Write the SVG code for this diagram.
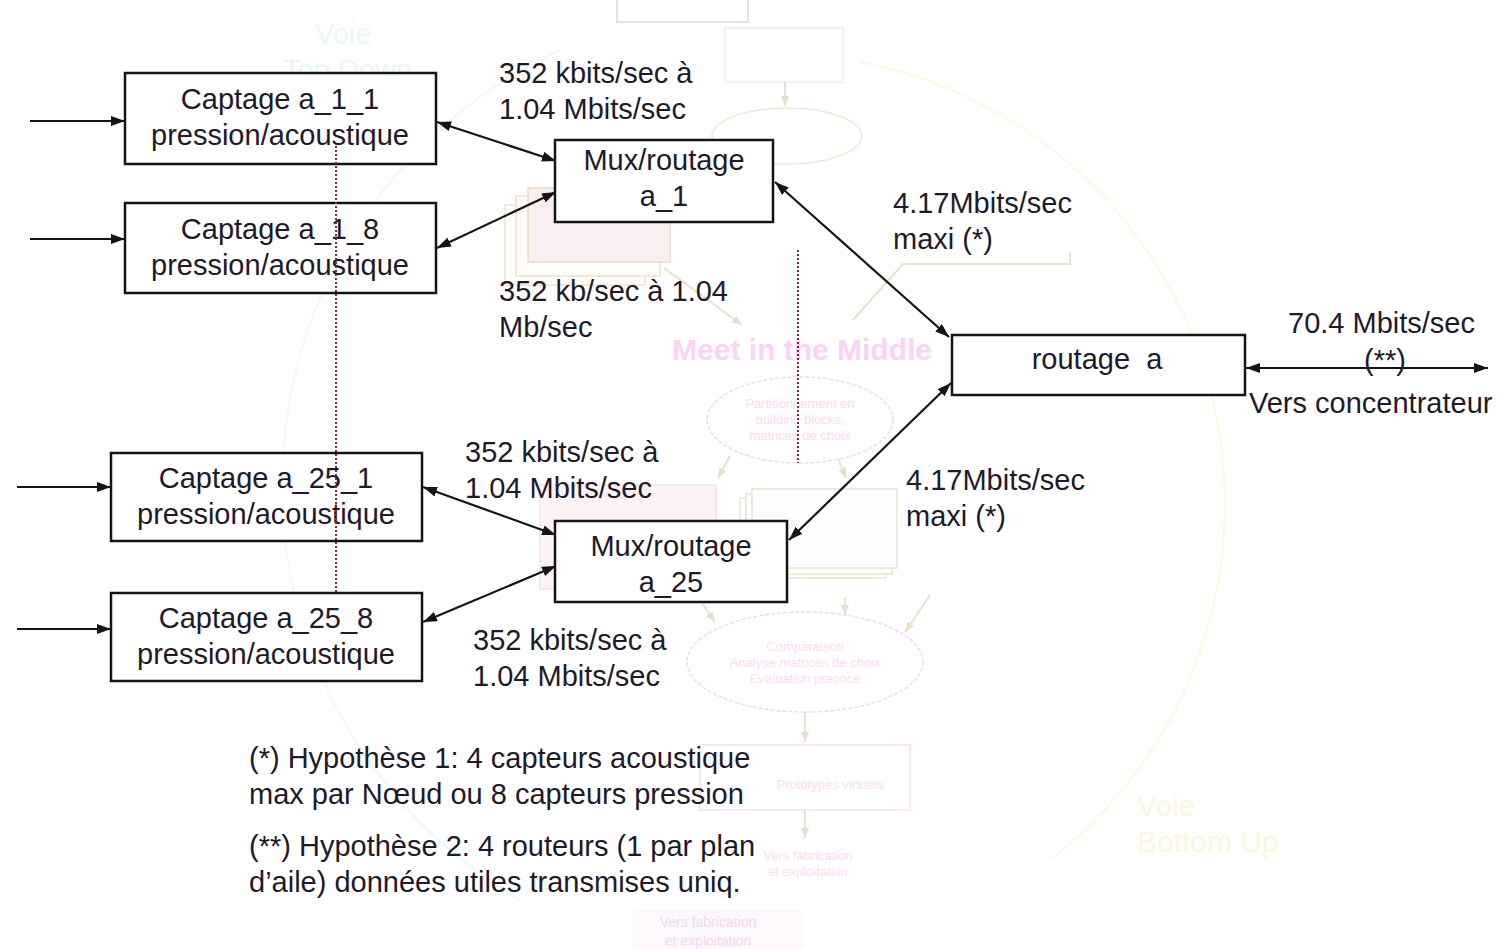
<svg xmlns="http://www.w3.org/2000/svg" width="1504" height="949" viewBox="0 0 1504 949">
  <style>
    .lbl { font-family: "Liberation Sans", Arial, sans-serif; font-size: 29px; fill: #1e1a2a; }
    .mid { text-anchor: middle; }
    .box { fill: #ffffff; stroke: #141414; stroke-width: 2.5; }
    .link { stroke: #141414; stroke-width: 2.2; fill: none; }
    .dots { stroke: #7a2c3c; stroke-width: 2; stroke-dasharray: 2 2; fill: none; }
    .bgline { fill: none; stroke-width: 2; }
    .bgtan { stroke: #e8e1cf; stroke-width: 2; fill: none; }
    .bgpink { stroke: #f9d2f4; stroke-width: 1.5; fill: none; }
    .bgtxt { font-family: "Liberation Sans", Arial, sans-serif; }
  </style>
  <defs>
    <marker id="ah" viewBox="0 0 14 10" refX="14" refY="5" markerWidth="14" markerHeight="10" orient="auto-start-reverse" markerUnits="userSpaceOnUse">
      <path d="M0,0 L14,5 L0,10 z" fill="#141414"/>
    </marker>
    <marker id="ahTan" viewBox="0 0 10 8" refX="10" refY="4" markerWidth="10" markerHeight="8" orient="auto" markerUnits="userSpaceOnUse">
      <path d="M0,0 L10,4 L0,8 z" fill="#e6dfcc"/>
    </marker>
  </defs>

  <!-- faded background: design-cycle sketch -->
  <g id="background">
    <path class="bgline" stroke="#eef9f9" d="M560 50 A480 480 0 0 0 520 900"/>
    <path class="bgline" stroke="#fafae4" d="M860 62 A450 450 0 0 1 1050 860"/>
    <text class="bgtxt" x="315" y="44" font-size="29" fill="#eaf7f7">Voie</text>
    <text class="bgtxt" x="283" y="80" font-size="29" fill="#eaf7f7">Top Down</text>
    <text class="bgtxt" x="1137" y="816" font-size="30" fill="#fbf7de">Voie</text>
    <text class="bgtxt" x="1137" y="852" font-size="30" fill="#fbf7de">Bottom Up</text>

    <rect x="617" y="-10" width="131" height="32" fill="none" stroke="#dedad0" stroke-width="1.5"/>
    <rect x="725" y="28" width="118" height="54" fill="none" stroke="#efe8f6" stroke-width="1.5"/>
    <line class="bgtan" x1="785" y1="82" x2="785" y2="106" marker-end="url(#ahTan)"/>
    <ellipse cx="787" cy="136" rx="75" ry="28" fill="none" stroke="#efe7d4" stroke-width="1.5"/>

    <rect x="505" y="205" width="140" height="80" fill="#fffdf8" stroke="#ede4d0" stroke-width="1.5"/>
    <rect x="516" y="196" width="144" height="80" fill="#fffbf6" stroke="#ede4d0" stroke-width="1.5"/>
    <rect x="528" y="188" width="142" height="74" fill="#faeef0" stroke="#e8dcc6" stroke-width="1.5"/>
    <line class="bgtan" x1="664" y1="268" x2="742" y2="325" marker-end="url(#ahTan)"/>
    <polyline class="bgtan" points="1070,252 1070,264 903,264 853,320"/>

    <text class="bgtxt" x="672" y="360" font-size="30" font-weight="bold" fill="#fbd3f6">Meet in the Middle</text>

    <ellipse class="bgpink" cx="800" cy="420" rx="93" ry="43" stroke-dasharray="4 2"/>
    <text class="bgtxt mid" x="800" y="408" font-size="13" fill="#f9dcf5">Partitionnement en</text>
    <text class="bgtxt mid" x="800" y="424" font-size="13" fill="#f9dcf5">building blocks,</text>
    <text class="bgtxt mid" x="800" y="440" font-size="13" fill="#f9dcf5">matrices de choix</text>
    <line class="bgtan" x1="730" y1="456" x2="718" y2="478" marker-end="url(#ahTan)"/>
    <line class="bgtan" x1="838" y1="458" x2="846" y2="478" marker-end="url(#ahTan)"/>

    <rect x="540" y="485" width="176" height="104" fill="#fdf2f6" stroke="#f0e6e0" stroke-width="1.5"/>
    <rect x="740" y="498" width="146" height="80" fill="#ffffff" stroke="#ece4d0" stroke-width="1.5"/>
    <rect x="746" y="494" width="146" height="80" fill="#ffffff" stroke="#ece4d0" stroke-width="1.5"/>
    <rect x="752" y="489" width="145" height="79" fill="#fdfcff" stroke="#ece4d0" stroke-width="1.5"/>
    <line class="bgtan" x1="845" y1="598" x2="845" y2="615" marker-end="url(#ahTan)"/>
    <line class="bgtan" x1="700" y1="600" x2="715" y2="622" marker-end="url(#ahTan)"/>
    <line class="bgtan" x1="930" y1="595" x2="905" y2="632" marker-end="url(#ahTan)"/>

    <ellipse class="bgpink" cx="805" cy="662" rx="118" ry="50" stroke-dasharray="4 2"/>
    <text class="bgtxt mid" x="805" y="651" font-size="13" fill="#fadcf6">Comparaison</text>
    <text class="bgtxt mid" x="805" y="667" font-size="13" fill="#fadcf6">Analyse matrices de choix</text>
    <text class="bgtxt mid" x="805" y="683" font-size="13" fill="#fadcf6">Evaluation precoce</text>
    <line class="bgtan" x1="805" y1="712" x2="805" y2="742" marker-end="url(#ahTan)"/>
    <rect x="700" y="745" width="210" height="65" fill="none" stroke="#f9dcf5" stroke-width="1.5"/>
    <text class="bgtxt mid" x="830" y="789" font-size="13" fill="#fadcf6">Prototypes virtuels</text>
    <line class="bgtan" x1="805" y1="810" x2="805" y2="838" marker-end="url(#ahTan)"/>
    <text class="bgtxt mid" x="808" y="860" font-size="13" fill="#fadcf6">Vers fabrication</text>
    <text class="bgtxt mid" x="808" y="876" font-size="13" fill="#fadcf6">et exploitation</text>

    <rect x="632" y="910" width="170" height="39" fill="#fdf8fc"/>
    <text class="bgtxt mid" x="708" y="927" font-size="14" fill="#f6d6f0">Vers fabrication</text>
    <text class="bgtxt mid" x="708" y="946" font-size="14" fill="#f6d6f0">et exploitation</text>
  </g>

  <!-- connectors -->
  <g id="connectors">
    <line class="link" x1="30" y1="121" x2="125" y2="121" marker-end="url(#ah)"/>
    <line class="link" x1="30" y1="239" x2="125" y2="239" marker-end="url(#ah)"/>
    <line class="link" x1="17" y1="487" x2="111" y2="487" marker-end="url(#ah)"/>
    <line class="link" x1="17" y1="629" x2="111" y2="629" marker-end="url(#ah)"/>

    <line class="link" x1="437" y1="122" x2="556" y2="161" marker-start="url(#ah)" marker-end="url(#ah)"/>
    <line class="link" x1="437" y1="248" x2="556" y2="192" marker-start="url(#ah)" marker-end="url(#ah)"/>
    <line class="link" x1="775" y1="182" x2="949" y2="337" marker-start="url(#ah)" marker-end="url(#ah)"/>

    <line class="link" x1="423" y1="487" x2="556" y2="535" marker-start="url(#ah)" marker-end="url(#ah)"/>
    <line class="link" x1="423" y1="622" x2="556" y2="566" marker-start="url(#ah)" marker-end="url(#ah)"/>
    <line class="link" x1="789" y1="540" x2="951" y2="383" marker-start="url(#ah)" marker-end="url(#ah)"/>

    <line class="link" x1="1246" y1="368" x2="1488" y2="368" marker-start="url(#ah)" marker-end="url(#ah)"/>
  </g>

  <!-- sensor nodes -->
  <g id="captage_a_1_1">
    <rect class="box" x="125" y="73" width="311" height="91"/>
    <text class="lbl mid" x="280" y="109">Captage a_1_1</text>
    <text class="lbl mid" x="280" y="145">pression/acoustique</text>
  </g>
  <g id="captage_a_1_8">
    <rect class="box" x="125" y="203" width="311" height="90"/>
    <text class="lbl mid" x="280" y="239">Captage a_1_8</text>
    <text class="lbl mid" x="280" y="275">pression/acoustique</text>
  </g>
  <g id="captage_a_25_1">
    <rect class="box" x="111" y="453" width="311" height="88"/>
    <text class="lbl mid" x="266" y="488">Captage a_25_1</text>
    <text class="lbl mid" x="266" y="524">pression/acoustique</text>
  </g>
  <g id="captage_a_25_8">
    <rect class="box" x="111" y="593" width="311" height="88"/>
    <text class="lbl mid" x="266" y="628">Captage a_25_8</text>
    <text class="lbl mid" x="266" y="664">pression/acoustique</text>
  </g>

  <!-- multiplexers / routers -->
  <g id="mux_a_1">
    <rect class="box" x="555" y="140" width="218" height="82"/>
    <text class="lbl mid" x="664" y="170">Mux/routage</text>
    <text class="lbl mid" x="664" y="206">a_1</text>
  </g>
  <g id="mux_a_25">
    <rect class="box" x="555" y="521" width="232" height="81"/>
    <text class="lbl mid" x="671" y="556">Mux/routage</text>
    <text class="lbl mid" x="671" y="592">a_25</text>
  </g>
  <g id="routage_a">
    <rect class="box" x="952" y="335" width="293" height="60"/>
    <text class="lbl mid" x="1097" y="369" xml:space="preserve">routage  a</text>
  </g>

  <!-- grouping guides between sensor ranges -->
  <g id="guides">
    <line class="dots" x1="336" y1="146" x2="336" y2="593"/>
    <line class="dots" x1="798" y1="250" x2="798" y2="463"/>
  </g>

  <!-- bit-rate labels -->
  <g id="rates">
    <text class="lbl" x="499" y="83">352 kbits/sec à</text>
    <text class="lbl" x="499" y="119">1.04 Mbits/sec</text>
    <text class="lbl" x="499" y="301">352 kb/sec à 1.04</text>
    <text class="lbl" x="499" y="337">Mb/sec</text>
    <text class="lbl" x="893" y="213">4.17Mbits/sec</text>
    <text class="lbl" x="893" y="249">maxi (*)</text>
    <text class="lbl" x="1288" y="333">70.4 Mbits/sec</text>
    <text class="lbl mid" x="1385" y="370">(**)</text>
    <text class="lbl" x="1249" y="413">Vers concentrateur</text>
    <text class="lbl" x="465" y="462">352 kbits/sec à</text>
    <text class="lbl" x="465" y="498">1.04 Mbits/sec</text>
    <text class="lbl" x="906" y="490">4.17Mbits/sec</text>
    <text class="lbl" x="906" y="526">maxi (*)</text>
    <text class="lbl" x="473" y="650">352 kbits/sec à</text>
    <text class="lbl" x="473" y="686">1.04 Mbits/sec</text>
  </g>

  <!-- notes -->
  <g id="notes">
    <text class="lbl" x="249" y="768">(*) Hypothèse 1: 4 capteurs acoustique</text>
    <text class="lbl" x="249" y="804">max par Nœud ou 8 capteurs pression</text>
    <text class="lbl" x="249" y="856">(**) Hypothèse 2: 4 routeurs (1 par plan</text>
    <text class="lbl" x="249" y="892">d’aile) données utiles transmises uniq.</text>
  </g>
</svg>
